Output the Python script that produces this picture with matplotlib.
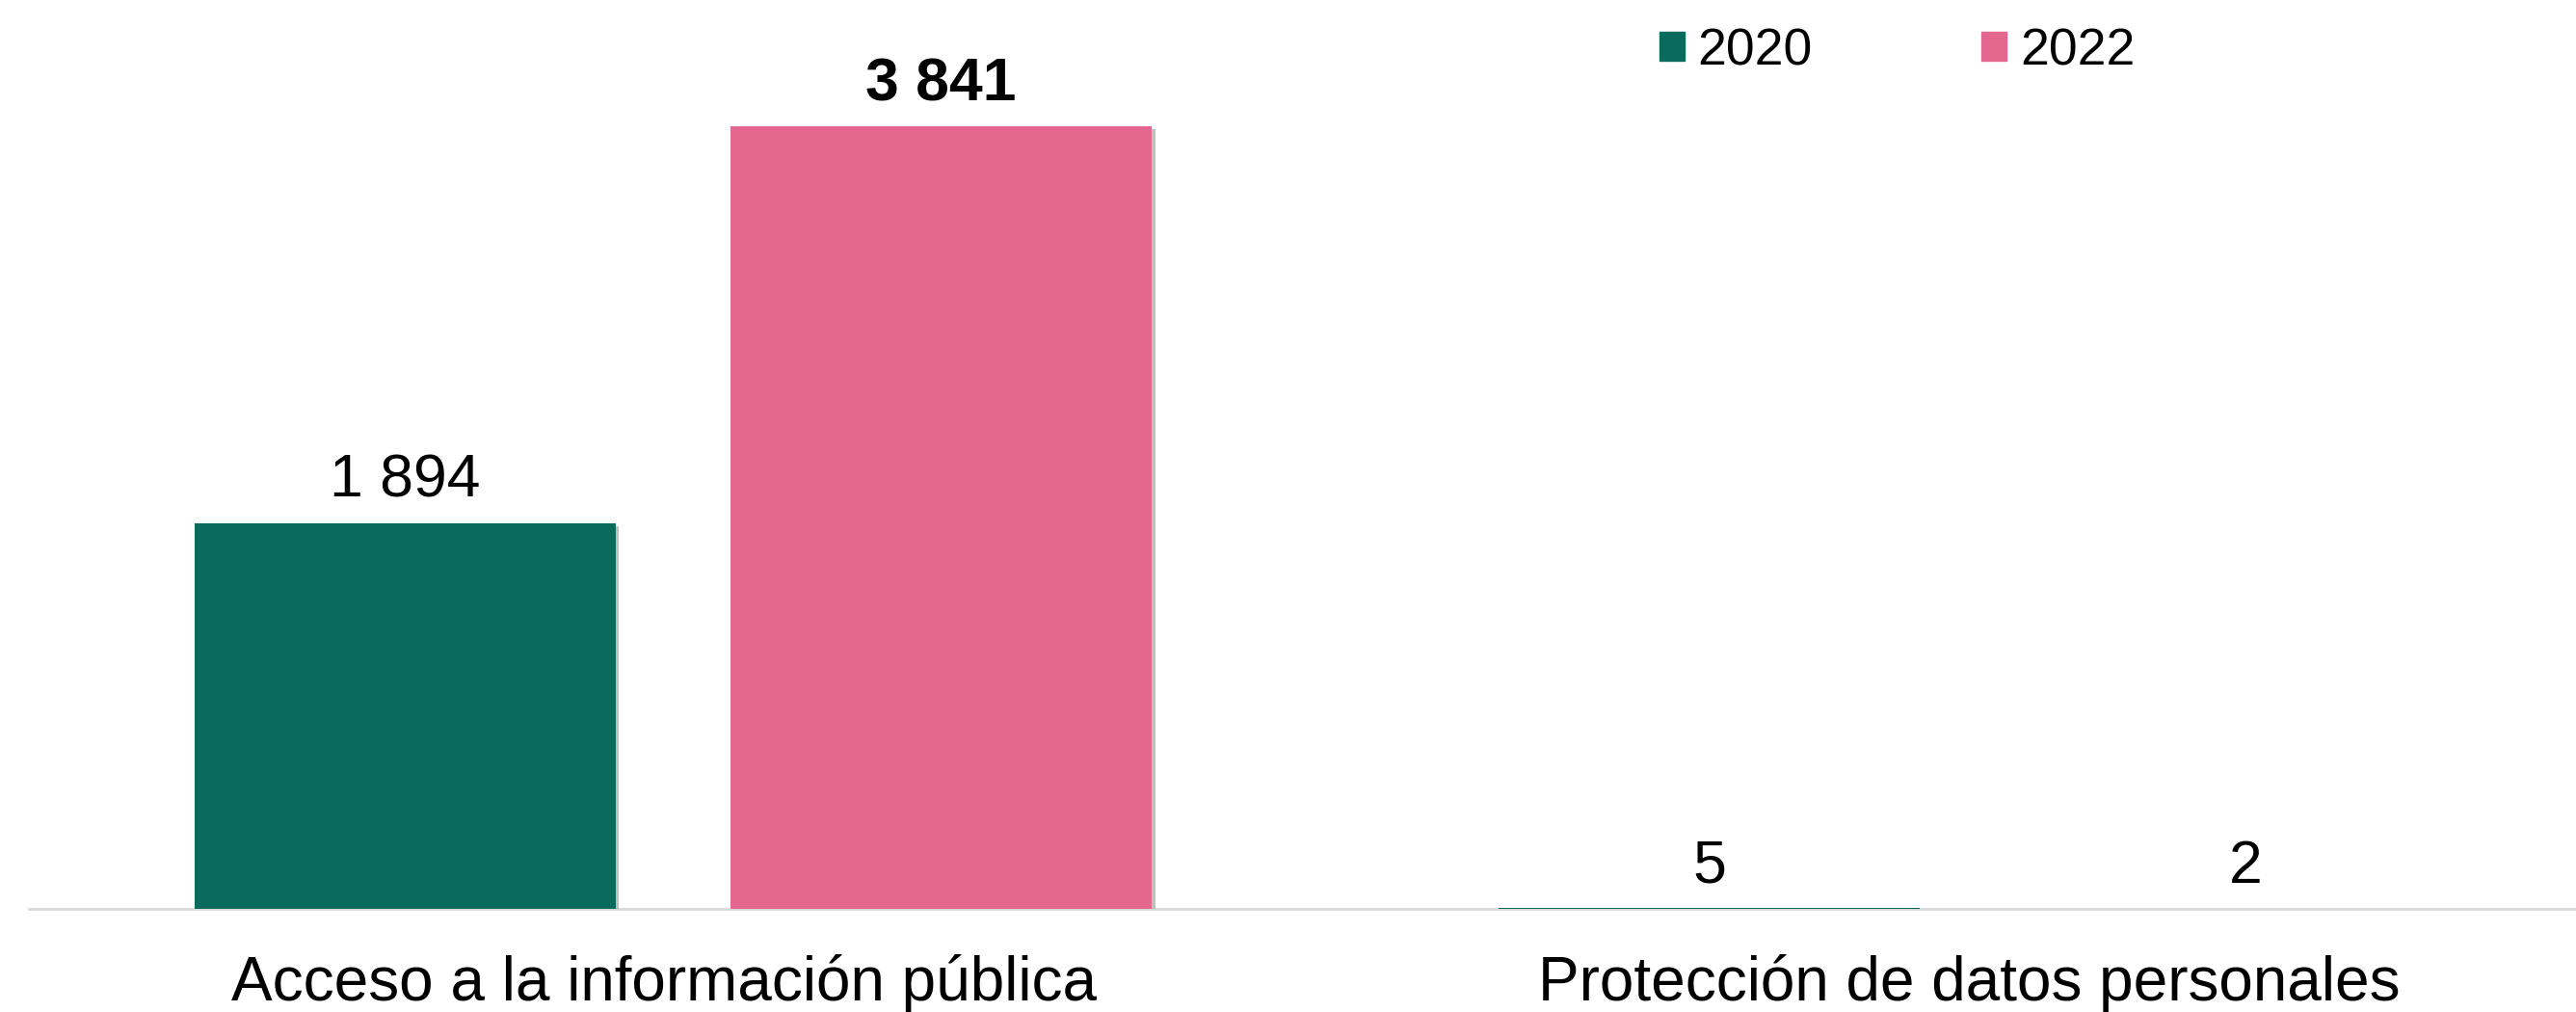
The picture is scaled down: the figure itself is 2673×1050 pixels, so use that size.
import matplotlib.pyplot as plt
import matplotlib.patheffects as pe
from matplotlib.patches import Patch
import numpy as np

plt.rcParams['font.family'] = ['Liberation Sans', 'DejaVu Sans']

categories = ['Acceso a la información pública', 'Protección de datos personales']
years = ['2020', '2022']
values_2020 = [1894, 5]
values_2022 = [3841, 2]
labels_2020 = ['1 894', '5']
labels_2022 = ['3 841', '2']
bold_2022 = [True, False]

green = '#0A6B5C'
pink = '#E3678F'

W, H = 2673, 1050
fig = plt.figure(figsize=(W / 100, H / 100), dpi=100)
ax = fig.add_axes([30 / W, 107 / H, 2643 / W, 888 / H])

x = np.arange(len(categories))
width = 0.323
off = 0.2055
shadow = [pe.SimplePatchShadow(offset=(2.5, -2.5), shadow_rgbFace='#999999', alpha=0.6), pe.Normal()]

b1 = ax.bar(x - off, values_2020, width, color=green, path_effects=shadow, zorder=3)
b2 = ax.bar(x + off, values_2022, width, color=pink, path_effects=shadow, zorder=3)

for xi, v, s in zip(x - off, values_2020, labels_2020):
    ax.annotate(s, (xi, v), xytext=(0, 10), textcoords='offset points',
                ha='center', va='bottom', fontsize=45)
for xi, v, s, b in zip(x + off, values_2022, labels_2022, bold_2022):
    ax.annotate(s, (xi, v), xytext=(0, 10), textcoords='offset points',
                ha='center', va='bottom', fontsize=45,
                fontweight='bold' if b else 'normal')

ax.set_xlim(-0.494, 1.459)
ax.set_ylim(0, 4200)
# labels sit a little left of the group centre in the original
ax.set_xticks(x - 0.0067)
ax.set_xticklabels(categories, fontsize=46)
ax.tick_params(axis='x', length=0, pad=34)
ax.set_yticks([])
for sp in ['top', 'right', 'left']:
    ax.spines[sp].set_visible(False)
ax.spines['bottom'].set_color('#d9d9d9')
ax.spines['bottom'].set_linewidth(2)

handles = [Patch(color=green, label=years[0]), Patch(color=pink, label=years[1])]
fig.legend(handles=handles, loc='center left', bbox_to_anchor=(1722 / W, 1 - 53 / H),
           ncol=2, frameon=False, fontsize=38.5, handlelength=0.49, handleheight=0.49,
           handletextpad=0.25, columnspacing=3.28, borderpad=0, borderaxespad=0)

fig.savefig('out.png', dpi=100)
